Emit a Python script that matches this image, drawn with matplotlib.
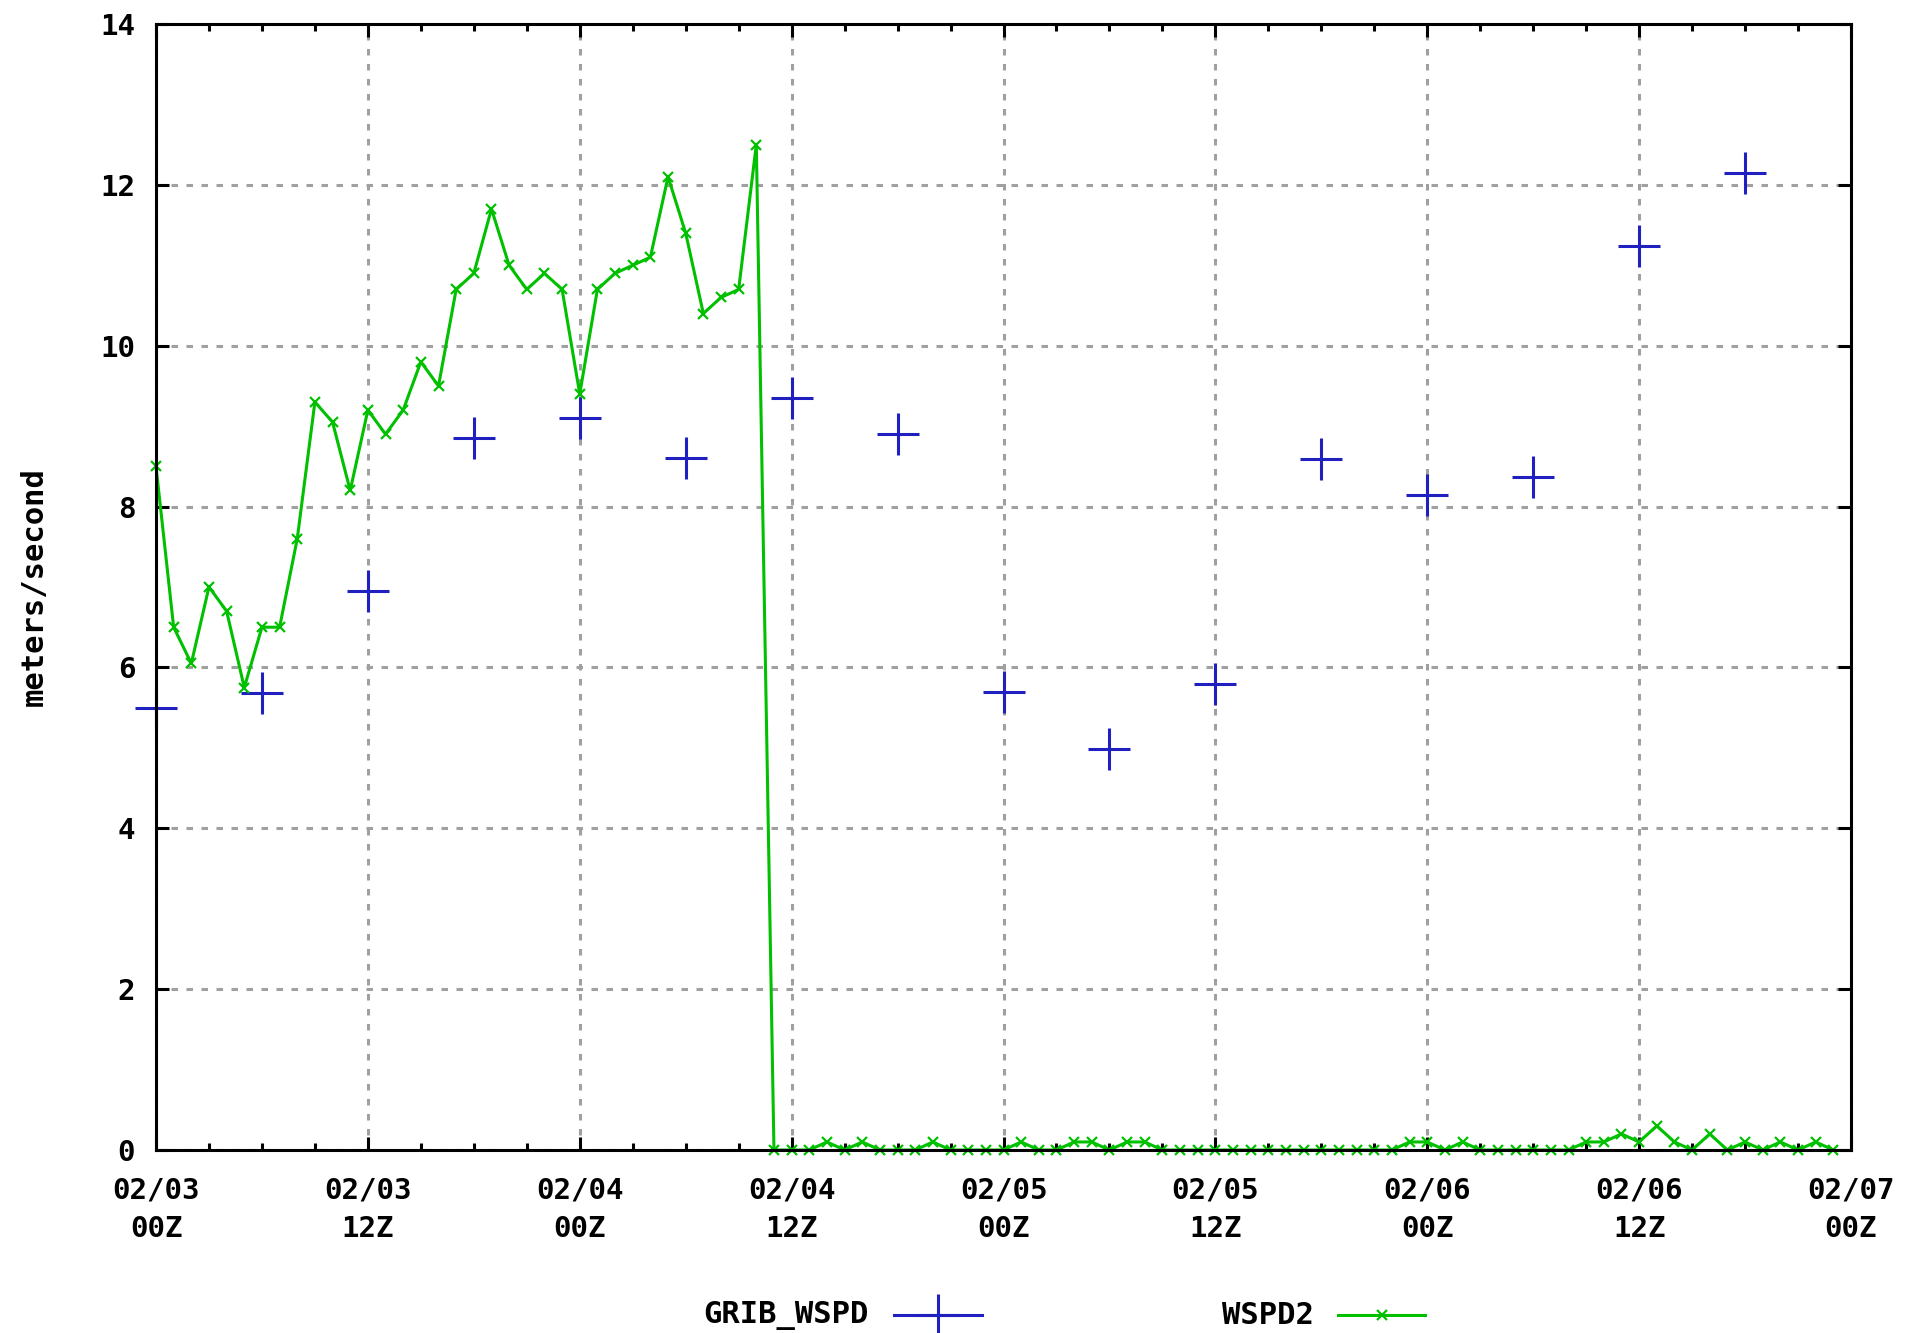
import matplotlib
matplotlib.use('Agg')
import matplotlib.pyplot as plt
from matplotlib.lines import Line2D
from matplotlib.ticker import MultipleLocator, FixedLocator

# ---------------- data ----------------
grib_hours = [0, 6, 12, 18, 24, 30, 36, 42, 48, 54, 60, 66, 72, 78, 84, 90]
grib_wspd = [5.5, 5.68, 6.95, 8.85, 9.1, 8.6, 9.35, 8.9, 5.7, 4.98, 5.8, 8.59,
             8.15, 8.37, 11.24, 12.15]

wspd2_hours = list(range(0, 96))
wspd2 = [8.5, 6.5, 6.05, 7.0, 6.7, 5.75, 6.5, 6.5, 7.6, 9.3,
         9.05, 8.2, 9.2, 8.9, 9.2, 9.8, 9.5, 10.7, 10.9, 11.7,
         11.0, 10.7, 10.9, 10.7, 9.4, 10.7, 10.9, 11.0, 11.1, 12.1,
         11.4, 10.4, 10.6, 10.7, 12.5, 0.0, 0.0, 0.0, 0.1, 0.0,
         0.1, 0.0, 0.0, 0.0, 0.1, 0.0, 0.0, 0.0, 0.0, 0.1,
         0.0, 0.0, 0.1, 0.1, 0.0, 0.1, 0.1, 0.0, 0.0, 0.0,
         0.0, 0.0, 0.0, 0.0, 0.0, 0.0, 0.0, 0.0, 0.0, 0.0,
         0.0, 0.1, 0.1, 0.0, 0.1, 0.0, 0.0, 0.0, 0.0, 0.0,
         0.0, 0.1, 0.1, 0.2, 0.1, 0.3, 0.1, 0.0, 0.2, 0.0,
         0.1, 0.0, 0.1, 0.0, 0.1, 0.0]

xtick_hours = [0, 12, 24, 36, 48, 60, 72, 84, 96]
xtick_labels = ["02/03\n00Z", "02/03\n12Z", "02/04\n00Z", "02/04\n12Z",
                "02/05\n00Z", "02/05\n12Z", "02/06\n00Z", "02/06\n12Z",
                "02/07\n00Z"]
ytick_values = [0, 2, 4, 6, 8, 10, 12, 14]
ytick_labels = ["0", "2", "4", "6", "8", "10", "12", "14"]

series_names = ["GRIB_WSPD", "WSPD2"]

# ---------------- style ----------------
BLUE = '#2020c0'
GREEN = '#00c000'
GRID = '#a0a0a0'
LW = 2.2
FS = 21

plt.rcParams['lines.scale_dashes'] = False
plt.rcParams['font.family'] = ['DejaVu Sans Mono', 'DejaVu Sans']
plt.rcParams['font.weight'] = 'bold'

W, H = 1913, 1333
fig = plt.figure(figsize=(W / 100, H / 100), dpi=100)
fig.patch.set_facecolor('white')
L, R, T, B = 156, 1851, 24, 1150
ax = fig.add_axes([L / W, 1 - B / H, (R - L) / W, (B - T) / H])

ax.set_xlim(0, 96)
ax.set_ylim(0, 14)

ax.grid(True, which='major', color=GRID, linewidth=LW,
        linestyle=(0, (4.7, 6.1)), zorder=0)
ax.set_axisbelow(True)

ax.plot(grib_hours, grib_wspd, linestyle='none', marker='+', markersize=30,
        markeredgewidth=LW, color=BLUE, clip_on=False, zorder=2,
        label=series_names[0])
ax.plot(wspd2_hours, wspd2, linestyle='-', linewidth=LW, marker='x',
        markersize=7, markeredgewidth=1.6, color=GREEN, clip_on=False,
        zorder=2, label=series_names[1])

for sp in ax.spines.values():
    sp.set_linewidth(LW)
    sp.set_zorder(3)

ax.xaxis.set_major_locator(FixedLocator(xtick_hours))
ax.set_xticklabels(xtick_labels, linespacing=1.5)
ax.xaxis.set_minor_locator(MultipleLocator(3))
ax.yaxis.set_major_locator(FixedLocator(ytick_values))
ax.set_yticklabels(ytick_labels)

ax.tick_params(which='major', direction='in', length=9.4, width=LW,
               top=True, right=True, labelsize=FS, color='black')
ax.tick_params(axis='x', which='major', pad=19)
ax.tick_params(axis='y', which='major', pad=15)
ax.tick_params(axis='x', which='minor', direction='in', length=5, width=LW,
               top=True)

fig.text(34 / W, 1 - 587 / H, 'meters/second', rotation=90, ha='center',
         va='center', fontsize=FS + 1)

# legend (manual, gnuplot-style)
ly = 1 - 1315 / H
fig.text(869 / W, ly, series_names[0], ha='right', va='center', fontsize=FS + 1)
fig.add_artist(Line2D([894 / W, 982 / W], [ly, ly], color=BLUE, linewidth=LW,
                      transform=fig.transFigure))
fig.add_artist(Line2D([938 / W], [ly], color=BLUE, marker='+', markersize=30,
                      markeredgewidth=LW, linestyle='none',
                      transform=fig.transFigure))
fig.text(1314 / W, ly, series_names[1], ha='right', va='center', fontsize=FS + 1)
fig.add_artist(Line2D([1338 / W, 1425 / W], [ly, ly], color=GREEN,
                      linewidth=LW, transform=fig.transFigure))
fig.add_artist(Line2D([1382 / W], [ly], color=GREEN, marker='x', markersize=7,
                      markeredgewidth=1.6, linestyle='none',
                      transform=fig.transFigure))

fig.savefig('out.png', dpi=100, facecolor='white')
